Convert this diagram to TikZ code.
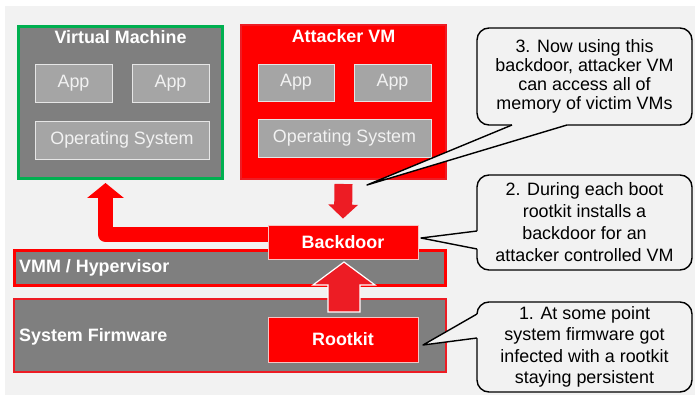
\documentclass[tikz,border=0pt]{standalone}
\usepackage{fontspec}
\setmainfont{Liberation Sans}
\usetikzlibrary{arrows.meta,calc}
\definecolor{bgc}{HTML}{F2F2F2}
\definecolor{boxgrey}{HTML}{7F7F7F}
\definecolor{appgrey}{HTML}{A5A5A5}
\definecolor{appline}{HTML}{E6E6E6}
\definecolor{vmgreen}{HTML}{00B050}
\definecolor{redA}{HTML}{FF0000}
\definecolor{redB}{HTML}{ED1C24}
\definecolor{pinkline}{HTML}{F6C4C4}
\begin{document}
\begin{tikzpicture}[x=1pt,y=-1pt,
  txt/.style={font=\fontsize{17.9}{19}\selectfont},
  btxt/.style={font=\fontsize{17.9}{19}\selectfont\bfseries, text=white},
  panel/.style={fill=boxgrey, inner sep=0pt},
  appbox/.style={draw=appline, line width=0.8pt, fill=appgrey, text=bgc, inner sep=0pt, txt},
  redbox/.style={draw=pinkline, line width=0.8pt, fill=redA, inner sep=0pt, btxt},
  callout/.style={draw=black, line width=1.4pt, fill=bgc, rounded corners=12pt, inner sep=0pt, align=center, minimum width=215pt, txt},
  calloutline/.style={draw=black, line width=1.4pt, line join=round},
  blockarrow/.style={fill=redB, draw=white, line width=1.2pt},
]
\useasboundingbox (0,0) rectangle (695,395);
\fill[white] (0,0) rectangle (695,395);
\fill[bgc] (5,6) rectangle (695,395);

% Virtual machine
\node[panel, draw=vmgreen, line width=3pt, minimum width=204pt, minimum height=152pt] (vm) at (120.5,102.5) {};
\node[btxt] (vmtitle) at (120.5,37) {Virtual Machine};
\node[appbox, minimum width=77pt, minimum height=38pt] (vmapp1) at (73.5,83) {App};
\node[appbox, minimum width=77pt, minimum height=38pt] (vmapp2) at (170.5,83) {App};
\node[appbox, minimum width=174pt, minimum height=38pt] (vmos) at (122,140) {Operating System};

% Attacker VM
\node[fill=redA, draw=redB, line width=2pt, inner sep=0pt, minimum width=205pt, minimum height=154pt] (att) at (343.5,102) {};
\node[btxt] (atttitle) at (343.5,36) {Attacker VM};
\node[appbox, minimum width=76pt, minimum height=37pt] (attapp1) at (296,82.5) {App};
\node[appbox, minimum width=77pt, minimum height=37pt] (attapp2) at (392.5,82.5) {App};
\node[appbox, minimum width=173pt, minimum height=38pt] (attos) at (344.5,138) {Operating System};

% Layers
\node[panel, draw=redA, line width=3pt, minimum width=431pt, minimum height=35pt] (vmm) at (230,268) {};
\node[btxt, anchor=west, inner sep=0pt] (vmmtext) at (19,268) {VMM / Hypervisor};
\node[panel, draw=redB, line width=2pt, minimum width=432pt, minimum height=73pt] (fw) at (230,335.5) {};
\node[btxt, anchor=west, inner sep=0pt] (fwtext) at (19,337) {System Firmware};

\node[redbox, minimum width=150pt, minimum height=34pt] (backdoor) at (343,242) {Backdoor};
\node[redbox, minimum width=150pt, minimum height=45pt] (rootkit) at (343,339.5) {Rootkit};

% Arrows
\draw[redA, line width=15pt, line join=round, -{Triangle[width=36pt,length=15pt]}]
  ([yshift=7.5pt]backdoor.west) -- ([yshift=7.5pt]backdoor.west -| 105.5,0) -- (105.5,183);
\draw[redB, line width=18pt, -{Triangle[width=29pt,length=14pt]}]
  ([yshift=-4pt]att.south) -- ([yshift=6pt]backdoor.north);
\path[blockarrow] (328,312) -- (328,285) -- (313,285) -- (344,262) -- (375,285) -- (360,285) -- (360,312) -- cycle;

% Callouts
\node[callout, minimum height=97pt] (c3) at (584.5,76.5) {3. Now using this\\backdoor, attacker VM\\can access all of\\memory of victim VMs};
\node[callout, minimum height=95pt, font=\fontsize{17.9}{22}\selectfont] (c2) at (584.5,222.5) {2. During each boot\\rootkit installs a\\backdoor for an\\attacker controlled VM};
\node[callout, minimum height=90pt, font=\fontsize{17.9}{21.5}\selectfont] (c1) at (584.5,347) {1. At some point\\system firmware got\\infected with a rootkit\\staying persistent};

\coordinate (t3) at (367,185);
\coordinate (t2) at (421,238);
\coordinate (t1) at (423,345);

\fill[bgc] (512,121) -- (512,125) -- (t3) -- (567,125) -- (567,121) -- cycle;
\draw[calloutline] (512,125) -- (t3) -- (567,125);
\fill[bgc] (481,231) -- (477,231) -- (t2) -- (477,249) -- (481,249) -- cycle;
\draw[calloutline] (477,231) -- (t2) -- (477,249);
\fill[bgc] (481,314) -- (477,314) -- (t1) -- (477,338) -- (481,338) -- cycle;
\draw[calloutline] (477,314) -- (t1) -- (477,338);
\end{tikzpicture}
\end{document}
